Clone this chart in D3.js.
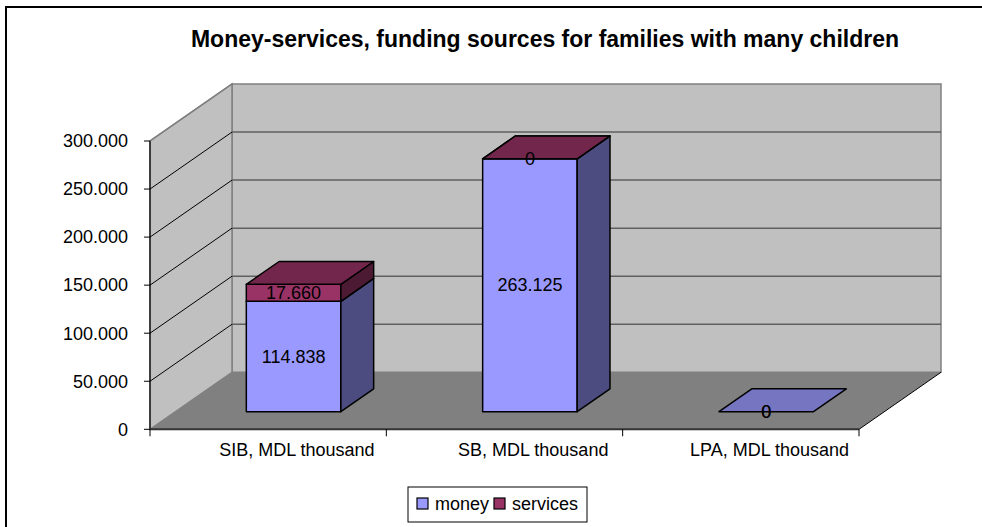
<!DOCTYPE html>
<html>
<head>
<meta charset="utf-8">
<script src="https://cdn.jsdelivr.net/npm/d3@7"></script>
<style>
  html, body { margin: 0; padding: 0; background: #fff; }
  svg { display: block; font-family: "Liberation Sans", Arial, sans-serif; }
</style>
</head>
<body>
<svg id="chart" width="982" height="527"></svg>
<script>
// Chart data
const title = "Money-services, funding sources for families with many children";
const categories = ["SIB, MDL thousand", "SB, MDL thousand", "LPA, MDL thousand"];
const seriesNames = ["money", "services"];
const money = [114838, 263125, 0];
const services = [17660, 0, 0];
const yTicks = [0, 50000, 100000, 150000, 200000, 250000, 300000];

// Colours per series: front, side, top
const palette = {
  money:    { front: "#9999FF", side: "#4C4C80", top: "#7575C2" },
  services: { front: "#993366", side: "#4D1A33", top: "#72264C" }
};

const svg = d3.select("#chart");
const fmt = d3.formatLocale({ decimal: ",", thousands: ".", grouping: [3], currency: ["", ""] }).format(",d");

// Front plane of the 3-D box and depth offset
const x0 = 150, x1 = 859;
const DX = 82, DY = 57;
const y = d3.scaleLinear().domain([0, 300000]).range([429.3, 141]);
const x = d3.scaleBand().domain(categories).range([x0, x1]);
const barW = x.bandwidth() / 2.5;
const dFront = 0.31, dBack = 0.71;

// project a front-plane point to a given depth (0 = front, 1 = back)
const P = (px, py, d) => [px + DX * d, py - DY * d];
const poly = pts => pts.map(p => p.join(",")).join(" ");

// Outer frame
svg.append("rect").attr("x", 6).attr("y", 7).attr("width", 990).attr("height", 540)
  .attr("fill", "#fff").attr("stroke", "#000").attr("stroke-width", 2);

// Title
svg.append("text").attr("x", 545).attr("y", 47).attr("text-anchor", "middle")
  .attr("font-size", 23).attr("font-weight", "bold").text(title);

const yMax = y.domain()[1];

// Back wall
svg.append("polygon")
  .attr("points", poly([P(x0, y(0), 1), P(x1, y(0), 1), P(x1, y(yMax), 1), P(x0, y(yMax), 1)]))
  .attr("fill", "#C0C0C0").attr("stroke", "#808080").attr("stroke-width", 1.5);

// Side wall
svg.append("polygon")
  .attr("points", poly([P(x0, y(0), 0), P(x0, y(0), 1), P(x0, y(yMax), 1), P(x0, y(yMax), 0)]))
  .attr("fill", "#C0C0C0").attr("stroke", "#808080").attr("stroke-width", 1.5);

// Gridlines: back wall horizontals and side wall diagonals
yTicks.slice(1, -1).forEach(v => {
  const a = P(x0, y(v), 0), b = P(x0, y(v), 1), c = P(x1, y(v), 1);
  svg.append("line").attr("x1", b[0]).attr("y1", b[1]).attr("x2", c[0]).attr("y2", c[1])
    .attr("stroke", "#5f5f5f").attr("stroke-width", 1.5);
  svg.append("line").attr("x1", a[0]).attr("y1", a[1]).attr("x2", b[0]).attr("y2", b[1])
    .attr("stroke", "#000").attr("stroke-width", 1);
});
{
  const a = P(x0, y(yMax), 0), b = P(x0, y(yMax), 1);
  svg.append("line").attr("x1", a[0]).attr("y1", a[1]).attr("x2", b[0]).attr("y2", b[1])
    .attr("stroke", "#808080").attr("stroke-width", 1.5);
}

// Floor
svg.append("polygon")
  .attr("points", poly([P(x0, y(0), 0), P(x0, y(0), 1), P(x1, y(0), 1), P(x1, y(0), 0)]))
  .attr("fill", "#808080");
{
  const a = P(x1, y(0), 0), b = P(x1, y(0), 1);
  svg.append("line").attr("x1", a[0]).attr("y1", a[1]).attr("x2", b[0]).attr("y2", b[1])
    .attr("stroke", "#000").attr("stroke-width", 1);
}

// Value axis on the front-left edge
const yAxis = svg.append("g");
yAxis.append("line").attr("x1", x0).attr("x2", x0).attr("y1", y(0)).attr("y2", y(yMax))
  .attr("stroke", "#000").attr("stroke-width", 1.2);
yTicks.forEach(v => {
  yAxis.append("line").attr("x1", x0 - 6).attr("x2", x0).attr("y1", y(v)).attr("y2", y(v))
    .attr("stroke", "#000");
  yAxis.append("text").attr("x", 128).attr("y", y(v)).attr("dy", "0.35em")
    .attr("text-anchor", "end").attr("font-size", 18).text(fmt(v));
});

// Category axis on the front floor edge
const xAxis = svg.append("g");
xAxis.append("line").attr("x1", x0).attr("x2", x1).attr("y1", y(0)).attr("y2", y(0))
  .attr("stroke", "#333").attr("stroke-width", 2);
[x0, ...categories.map(c => x(c) + x.bandwidth())].forEach(t => {
  xAxis.append("line").attr("x1", t).attr("x2", t).attr("y1", y(0)).attr("y2", y(0) + 7)
    .attr("stroke", "#000");
});
categories.forEach(c => {
  xAxis.append("text").attr("x", x(c) + x.bandwidth() / 2 + DX * 0.35).attr("y", 456)
    .attr("text-anchor", "middle").attr("font-size", 18).text(c);
});

// Stacked 3-D bars
const stack = d3.stack().keys(seriesNames)(categories.map((c, i) => ({ money: money[i], services: services[i] })));
const labels = [];
categories.forEach((c, i) => {
  const xl = x(c) + (x.bandwidth() - barW) / 2, xr = xl + barW;
  stack.forEach((layer, si) => {
    const key = layer.key;
    const [v0, v1] = layer[i];
    const col = palette[key];
    labels.push({ x: (xl + xr) / 2 + DX * dFront, y: (y(v0) + y(v1)) / 2 - DY * dFront, v: v1 - v0 });
    // an empty segment on an empty stack adds nothing visible
    if (v1 === v0 && v0 === 0 && si > 0) return;
    const yb = y(v0), yt = y(v1);
    const g = svg.append("g").attr("stroke", "#000").attr("stroke-width", 1.5).attr("stroke-linejoin", "round");
    if (yb - yt > 0) {
      g.append("polygon").attr("fill", col.front)
        .attr("points", poly([P(xl, yb, dFront), P(xr, yb, dFront), P(xr, yt, dFront), P(xl, yt, dFront)]));
      g.append("polygon").attr("fill", col.side)
        .attr("points", poly([P(xr, yb, dFront), P(xr, yb, dBack), P(xr, yt, dBack), P(xr, yt, dFront)]));
    }
    g.append("polygon").attr("fill", col.top)
      .attr("points", poly([P(xl, yt, dFront), P(xr, yt, dFront), P(xr, yt, dBack), P(xl, yt, dBack)]));
  });
});

// Data labels
labels.forEach(l => {
  svg.append("text").attr("x", l.x).attr("y", l.y).attr("dy", "0.35em")
    .attr("text-anchor", "middle").attr("font-size", 18).attr("fill", "#000").text(fmt(l.v));
});

// Legend
const lg = svg.append("g");
lg.append("rect").attr("x", 408).attr("y", 487).attr("width", 179).attr("height", 35)
  .attr("fill", "#fff").attr("stroke", "#000").attr("stroke-width", 1);
const legendX = [417, 494];
seriesNames.forEach((s, i) => {
  lg.append("rect").attr("x", legendX[i]).attr("y", 498).attr("width", 11).attr("height", 11)
    .attr("fill", palette[s].front).attr("stroke", "#000").attr("stroke-width", 1.2);
  lg.append("text").attr("x", legendX[i] + 18).attr("y", 510).attr("font-size", 18).text(s);
});
</script>
</body>
</html>
